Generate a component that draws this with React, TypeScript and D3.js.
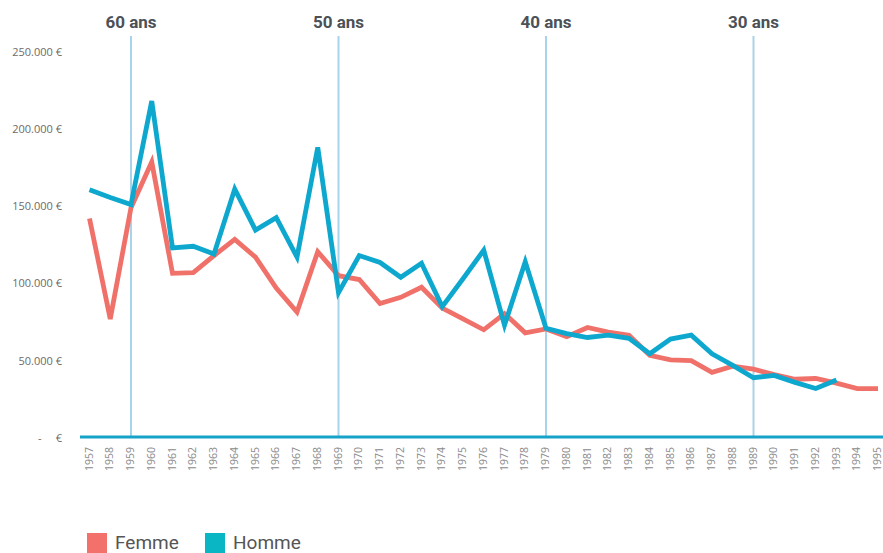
import React, { useRef, useEffect } from 'react';
import * as d3 from 'd3';

const years = [
  1957, 1958, 1959, 1960, 1961, 1962, 1963, 1964, 1965, 1966,
  1967, 1968, 1969, 1970, 1971, 1972, 1973, 1974, 1975, 1976,
  1977, 1978, 1979, 1980, 1981, 1982, 1983, 1984, 1985, 1986,
  1987, 1988, 1989, 1990, 1991, 1992, 1993, 1994, 1995,
];

const femme = [
  142000, 77000, 149000, 178500, 106500, 107000, 118000, 128500, 117000, 97000,
  81500, 120500, 105000, 102500, 87000, 91000, 97500, 84000, 77000, 70000,
  80500, 68000, 70500, 65500, 71500, 68500, 66500, 53500, 50500, 50000,
  42500, 46500, 44500, 41000, 38000, 38500, 35500, 32000, 32000,
];

const homme: (number | null)[] = [
  160500, 155500, 151000, 218000, 123000, 124000, 119000, 161000, 134500, 142500,
  117000, 188000, 94000, 118000, 113500, 104000, 113000, 85000, 103000, 121500,
  73000, 114000, 71000, 67500, 65000, 66500, 64500, 54500, 64000, 66500,
  54500, 47000, 39000, 40500, 36000, 32000, 37500, null, null,
];

const yTicks = [0, 50000, 100000, 150000, 200000, 250000];

const ageMarks = [
  { year: 1959, label: '60 ans' },
  { year: 1969, label: '50 ans' },
  { year: 1979, label: '40 ans' },
  { year: 1989, label: '30 ans' },
];

const legendItems = [
  { label: 'Femme', color: '#f2726b' },
  { label: 'Homme', color: '#0ab6c3' },
];

const RED = '#f0716a';
const BLUE = '#0ea8cf';

const App: React.FC = () => {
  const svgRef = useRef<SVGSVGElement>(null);

  useEffect(() => {
    if (!svgRef.current) return;
    const svg = d3.select(svgRef.current);
    svg.selectAll('*').remove();

    const width = 883;
    const height = 553;
    svg.attr('width', width).attr('height', height);

    const x = d3.scaleLinear().domain([1957, 1995]).range([89.5, 878]);
    const y = d3.scaleLinear().domain([0, 250000]).range([438, 51.5]);

    // age reference lines
    const marks = svg.append('g');
    marks.selectAll('line')
      .data(ageMarks)
      .enter().append('line')
      .attr('x1', d => x(d.year))
      .attr('x2', d => x(d.year))
      .attr('y1', 36)
      .attr('y2', y(0))
      .attr('stroke', '#a9d3ea')
      .attr('stroke-width', 2);

    marks.selectAll('text')
      .data(ageMarks)
      .enter().append('text')
      .attr('x', d => x(d.year))
      .attr('y', 28)
      .attr('text-anchor', 'middle')
      .style('font-family', 'Roboto, sans-serif')
      .style('font-weight', 'bold')
      .style('font-size', '17px')
      .style('fill', '#4b5157')
      .text(d => d.label);

    // y labels
    const fmt = d3.format(',');
    svg.append('g').selectAll('text')
      .data(yTicks)
      .enter().append('text')
      .attr('x', 62)
      .attr('y', d => y(d) + 4)
      .attr('text-anchor', 'end')
      .style('font-family', '"Open Sans", sans-serif')
      .style('font-size', '11px')
      .style('fill', '#6f6a66')
      .style('white-space', 'pre')
      .text(d => (d === 0 ? '-     €' : fmt(d).replace(/,/g, '.') + ' €'));

    // x labels
    svg.append('g').selectAll('text')
      .data(years)
      .enter().append('text')
      .attr('transform', d => `translate(${x(d) + 3},447) rotate(-90)`)
      .attr('text-anchor', 'end')
      .style('font-family', '"Open Sans", sans-serif')
      .style('font-size', '10.5px')
      .style('fill', '#8a8a8a')
      .text(d => String(d));

    // lines
    const line = d3.line<number | null>()
      .defined(d => d !== null)
      .x((_, i) => x(years[i]))
      .y(d => y(d as number));

    svg.append('path')
      .datum(femme)
      .attr('d', line as any)
      .attr('fill', 'none')
      .attr('stroke', RED)
      .attr('stroke-width', 4.8)
      .attr('stroke-linejoin', 'miter');

    svg.append('path')
      .datum(homme)
      .attr('d', line)
      .attr('fill', 'none')
      .attr('stroke', BLUE)
      .attr('stroke-width', 4.8)
      .attr('stroke-linejoin', 'miter');

    // baseline
    svg.append('line')
      .attr('x1', 80)
      .attr('x2', width)
      .attr('y1', y(0) - 1)
      .attr('y2', y(0) - 1)
      .attr('stroke', '#17a2c9')
      .attr('stroke-width', 3);

    // legend
    const legend = svg.append('g');
    const lx = [87, 205];
    legendItems.forEach((item, i) => {
      legend.append('rect')
        .attr('x', lx[i])
        .attr('y', 533)
        .attr('width', 20)
        .attr('height', 20)
        .attr('fill', item.color);
      legend.append('text')
        .attr('x', lx[i] + 28)
        .attr('y', 549)
        .style('font-family', 'Roboto, sans-serif')
        .style('font-size', '19px')
        .style('fill', '#555555')
        .text(item.label);
    });
  }, []);

  return (
    <svg ref={svgRef} style={{ position: 'absolute', left: 0, top: 0, background: '#fff' }}></svg>
  );
};

export default App;
